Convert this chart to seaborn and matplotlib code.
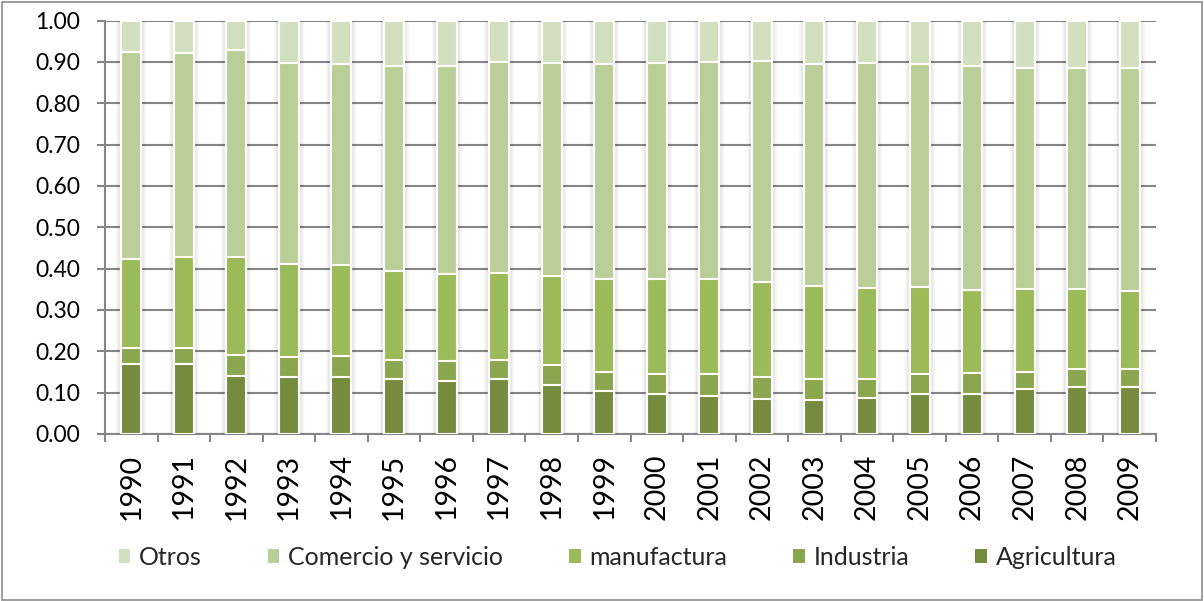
import matplotlib
matplotlib.use("Agg")
import matplotlib.pyplot as plt
import matplotlib.patheffects as pe
from matplotlib.patches import Patch, Rectangle
import numpy as np
import pandas as pd
import seaborn as sns

# Shares of each sector per year (each year sums to 1.00)
years = [str(y) for y in range(1990, 2010)]
agricultura = [0.169, 0.169, 0.140, 0.138, 0.138, 0.133, 0.128, 0.133, 0.118, 0.104,
               0.096, 0.092, 0.084, 0.082, 0.086, 0.097, 0.097, 0.108, 0.114, 0.114]
industria = [0.040, 0.040, 0.050, 0.049, 0.051, 0.047, 0.048, 0.047, 0.050, 0.046,
             0.048, 0.052, 0.053, 0.051, 0.047, 0.047, 0.050, 0.042, 0.042, 0.042]
manufactura = [0.215, 0.219, 0.237, 0.224, 0.219, 0.214, 0.210, 0.210, 0.214, 0.225,
               0.230, 0.230, 0.230, 0.224, 0.220, 0.211, 0.201, 0.200, 0.195, 0.189]
comercio = [0.499, 0.493, 0.502, 0.487, 0.487, 0.496, 0.503, 0.510, 0.515, 0.521,
            0.524, 0.526, 0.536, 0.538, 0.544, 0.540, 0.541, 0.535, 0.534, 0.540]
otros = [0.077, 0.079, 0.071, 0.102, 0.105, 0.110, 0.111, 0.100, 0.103, 0.104,
         0.102, 0.100, 0.097, 0.105, 0.103, 0.105, 0.111, 0.115, 0.115, 0.115]

series_names = ["Agricultura", "Industria", "manufactura", "Comercio y servicio", "Otros"]
colors = {
    "Agricultura": "#758C3F",
    "Industria": "#8AA64E",
    "manufactura": "#9BBB59",
    "Comercio y servicio": "#BACF98",
    "Otros": "#D3E0C0",
}

df = pd.DataFrame({
    "year": years,
    "Agricultura": agricultura,
    "Industria": industria,
    "manufactura": manufactura,
    "Comercio y servicio": comercio,
    "Otros": otros,
})
stack = df[series_names].cumsum(axis=1)

sns.set_theme(style="white")
plt.rcParams["font.family"] = ["Lato", "DejaVu Sans"]

axis_gray = "#868686"

fig = plt.figure(figsize=(12.04, 6.01), dpi=100)
ax = fig.add_axes([105 / 1204, 1 - 434 / 601, 1051 / 1204, 413.5 / 601])

# Stacked bars: draw cumulative totals from the top layer down
for i, name in enumerate(reversed(series_names)):
    n_before = len(ax.patches)
    sns.barplot(x=df["year"], y=stack[name], color=colors[name], saturation=1,
                width=0.38, edgecolor="white", linewidth=1.5, errorbar=None,
                ax=ax, zorder=3)
    if i == 0:
        for p in ax.patches[n_before:]:
            p.set_path_effects([
                pe.Stroke(linewidth=7, foreground="black", alpha=0.035),
                pe.Stroke(linewidth=4.5, foreground="black", alpha=0.05),
                pe.Normal(),
            ])

ax.set_xlim(-0.5, len(years) - 0.5)
ax.set_ylim(0, 1.0)
yt = np.round(np.arange(0, 1.01, 0.1), 2)
ax.set_yticks(yt)
ax.set_yticklabels([f"{v:.2f}" for v in yt])
ax.set_xlabel("")
ax.set_ylabel("")

ax.set_axisbelow(True)
ax.yaxis.grid(True, color=axis_gray, linewidth=1.5)
ax.xaxis.grid(False)
for side in ("top", "right"):
    ax.spines[side].set_visible(False)
for side in ("left", "bottom"):
    ax.spines[side].set_visible(True)
    ax.spines[side].set_color(axis_gray)
    ax.spines[side].set_linewidth(1.5)

ax.set_xticks(np.arange(-0.5, len(years), 1.0), minor=True)
ax.tick_params(axis="x", which="major", length=0, pad=14, labelsize=20.5,
               labelrotation=90, labelcolor="black")
ax.tick_params(axis="x", which="minor", length=6, width=1.5, color=axis_gray,
               direction="out", bottom=True)
ax.tick_params(axis="y", which="major", length=6, width=1.5, color=axis_gray,
               direction="out", left=True, pad=12, labelsize=16.5, labelcolor="black")

handles = [Patch(facecolor=colors[n], edgecolor="none") for n in reversed(series_names)]
fig.legend(handles, list(reversed(series_names)), loc="center",
           bbox_to_anchor=(0.513, 0.073), ncol=5, frameon=False, fontsize=18,
           handlelength=0.45, handleheight=0.5, handletextpad=0.35,
           columnspacing=2.65)

fig.patches.append(Rectangle((0.0015, 0.002), 0.997, 0.995, transform=fig.transFigure,
                             fill=False, edgecolor="#8c8c8c", linewidth=1.2))

fig.savefig("out.png", dpi=100)
